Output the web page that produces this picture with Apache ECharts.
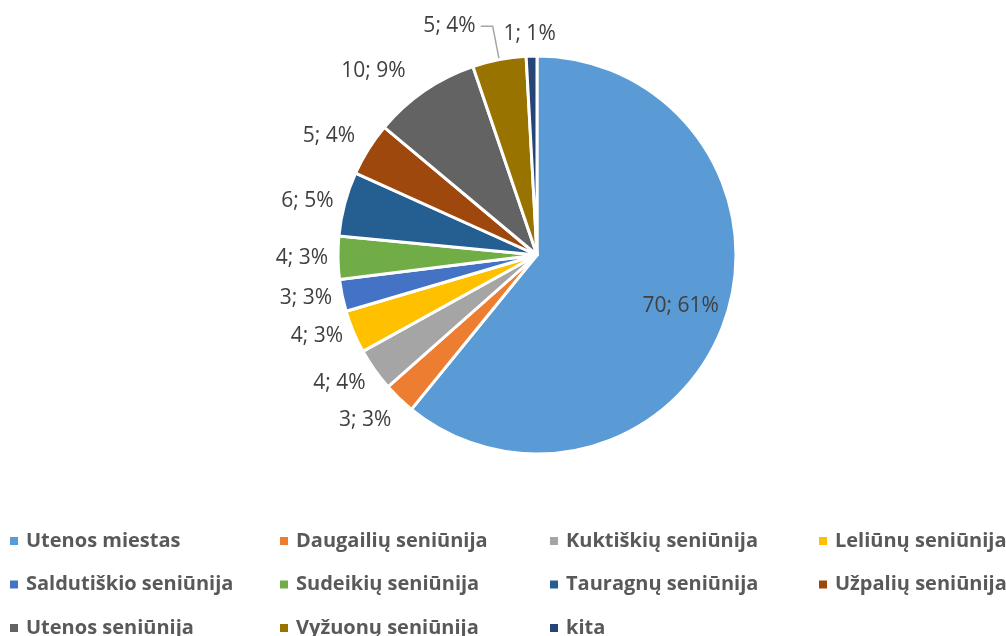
<!DOCTYPE html>
<html>
<head>
<meta charset="utf-8">
<script src="https://cdn.jsdelivr.net/npm/echarts@6/dist/echarts.min.js"></script>
<style>
  html, body { margin: 0; padding: 0; background: #fff; }
  #chart { width: 1006px; height: 636px; }
</style>
</head>
<body>
<div id="chart"></div>
<script>
// seniūnijų pasiskirstymas
const Categories = ['Utenos miestas', 'Daugailių seniūnija', 'Kuktiškių seniūnija', 'Leliūnų seniūnija',
  'Saldutiškio seniūnija', 'Sudeikių seniūnija', 'Tauragnų seniūnija', 'Užpalių seniūnija',
  'Utenos seniūnija', 'Vyžuonų seniūnija', 'kita'];
const Values = [70, 3, 4, 4, 3, 4, 6, 5, 10, 5, 1];
const Percents = [61, 3, 4, 3, 3, 3, 5, 4, 9, 4, 1];
const Colors = ['#5B9BD5', '#ED7D31', '#A5A5A5', '#FFC000', '#4472C4', '#70AD47',
  '#255E91', '#9E480E', '#636363', '#997300', '#264478'];

function renderChart() {
  const dom = document.getElementById('chart');
  const chart = echarts.init(dom);

  const data = Categories.map((name, i) => {
    const item = { name: name, value: Values[i], itemStyle: { color: Colors[i] } };
    if (i === 0) {
      item.label = { position: 'inside', offset: [47, 17] };
    }
    if (i === 9) {
      item.labelLine = { show: true, length: 34, length2: 12, lineStyle: { color: '#A6A6A6', width: 1.5 } };
    }
    return item;
  });

  // legenda 4 stulpeliais
  const legendCols = [[0, 4, 8], [1, 5, 9], [2, 6, 10], [3, 7]];
  const legendLeft = [8, 278, 548, 817];
  const legends = legendCols.map((idx, c) => ({
    orient: 'vertical',
    left: legendLeft[c],
    top: 531,
    width: 185,
    height: 130,
    padding: 0,
    itemWidth: 10,
    itemHeight: 10,
    itemGap: 23.5,
    icon: 'rect',
    data: idx.map(i => Categories[i]),
    textStyle: {
      color: '#595959',
      fontSize: 20,
      lineHeight: 20,
      fontWeight: 'bold',
      fontFamily: 'Open Sans',
      padding: [0, 0, 0, 2]
    }
  }));

  // nedideli etikečių pataisymai
  const labelNudge = { 1: [4, 14], 2: [2, 7], 7: [2, -8], 8: [10, -12] };

  const option = {
    animation: false,
    legend: legends,
    series: [
      {
        type: 'pie',
        center: [537, 255],
        radius: 199,
        startAngle: 90,
        data: data,
        itemStyle: {
          borderColor: '#fff',
          borderWidth: 3
        },
        label: {
          show: true,
          position: 'outside',
          color: '#404040',
          fontSize: 21,
          fontFamily: 'Open Sans',
          formatter: p => p.value + '; ' + Percents[p.dataIndex] + '%'
        },
        labelLine: {
          show: false,
          length: 10,
          length2: 0
        },
        labelLayout: p => {
          // "kita" etiketė virš mažo sektoriaus
          if (p.dataIndex === 10) {
            return {
              x: p.rect.x + p.rect.width / 2 - 2,
              y: p.rect.y - 20,
              align: 'center',
              verticalAlign: 'middle'
            };
          }
          const n = labelNudge[p.dataIndex];
          return n ? { dx: n[0], dy: n[1] } : {};
        }
      }
    ]
  };
  chart.setOption(option, true);
}
renderChart();
</script>
</body>
</html>
